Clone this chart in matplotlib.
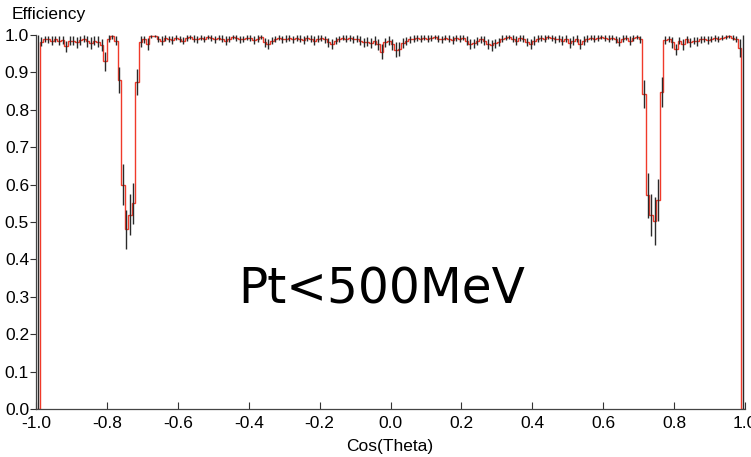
import numpy as np
import matplotlib
matplotlib.use("Agg")
import matplotlib.pyplot as plt

# 200 bins in cos(theta) from -1 to 1
bin_edges = np.linspace(-1.0, 1.0, 201)

efficiency = [
    0.000, 0.982, 0.990, 0.988, 0.985, 0.990, 0.984, 0.986, 0.970, 0.984,
    0.985, 0.980, 0.986, 0.990, 0.983, 0.978, 0.985, 0.982, 0.972, 0.930,
    0.990, 0.996, 0.985, 0.880, 0.600, 0.480, 0.520, 0.550, 0.875, 0.982,
    0.988, 0.975, 0.998, 0.998, 0.990, 0.985, 0.992, 0.990, 0.987, 0.993,
    0.990, 0.985, 0.992, 0.994, 0.990, 0.988, 0.993, 0.990, 0.995, 0.992,
    0.988, 0.993, 0.990, 0.985, 0.990, 0.994, 0.992, 0.988, 0.990, 0.993,
    0.992, 0.986, 0.990, 0.994, 0.980, 0.976, 0.985, 0.990, 0.993, 0.988,
    0.990, 0.992, 0.988, 0.991, 0.990, 0.987, 0.992, 0.990, 0.985, 0.990,
    0.992, 0.988, 0.980, 0.975, 0.985, 0.990, 0.993, 0.990, 0.992, 0.988,
    0.990, 0.985, 0.980, 0.982, 0.978, 0.985, 0.975, 0.955, 0.980, 0.985,
    0.975, 0.960, 0.962, 0.978, 0.983, 0.988, 0.990, 0.992, 0.990, 0.993,
    0.990, 0.992, 0.994, 0.990, 0.988, 0.993, 0.990, 0.986, 0.992, 0.990,
    0.993, 0.985, 0.975, 0.978, 0.983, 0.988, 0.985, 0.975, 0.972, 0.978,
    0.982, 0.990, 0.993, 0.995, 0.990, 0.985, 0.992, 0.990, 0.982, 0.975,
    0.985, 0.990, 0.992, 0.990, 0.994, 0.992, 0.988, 0.990, 0.985, 0.990,
    0.978, 0.985, 0.990, 0.976, 0.985, 0.990, 0.993, 0.990, 0.992, 0.994,
    0.992, 0.990, 0.993, 0.988, 0.982, 0.990, 0.993, 0.985, 0.992, 0.995,
    0.988, 0.842, 0.572, 0.519, 0.503, 0.559, 0.848, 0.987, 0.990, 0.980,
    0.962, 0.985, 0.975, 0.988, 0.980, 0.985, 0.983, 0.988, 0.990, 0.987,
    0.990, 0.992, 0.990, 0.993, 0.995, 0.997, 0.993, 0.990, 0.965, 0.000,
]

errors = [
    1.000, 0.012, 0.008, 0.010, 0.012, 0.008, 0.012, 0.010, 0.015, 0.012,
    0.012, 0.015, 0.012, 0.010, 0.014, 0.016, 0.012, 0.014, 0.016, 0.025,
    0.010, 0.006, 0.012, 0.035, 0.055, 0.052, 0.055, 0.055, 0.035, 0.014,
    0.010, 0.016, 0.006, 0.004, 0.008, 0.012, 0.008, 0.008, 0.010, 0.007,
    0.008, 0.010, 0.008, 0.006, 0.009, 0.010, 0.007, 0.008, 0.006, 0.008,
    0.010, 0.007, 0.009, 0.011, 0.008, 0.006, 0.008, 0.010, 0.008, 0.007,
    0.008, 0.011, 0.009, 0.006, 0.012, 0.013, 0.010, 0.008, 0.007, 0.010,
    0.009, 0.008, 0.010, 0.008, 0.009, 0.010, 0.008, 0.009, 0.011, 0.009,
    0.008, 0.010, 0.012, 0.013, 0.010, 0.008, 0.007, 0.009, 0.008, 0.010,
    0.009, 0.011, 0.012, 0.012, 0.013, 0.011, 0.014, 0.020, 0.012, 0.011,
    0.014, 0.020, 0.018, 0.013, 0.011, 0.010, 0.009, 0.008, 0.009, 0.007,
    0.009, 0.008, 0.006, 0.009, 0.010, 0.007, 0.009, 0.011, 0.008, 0.009,
    0.007, 0.011, 0.013, 0.012, 0.011, 0.010, 0.011, 0.013, 0.014, 0.012,
    0.011, 0.009, 0.007, 0.006, 0.009, 0.011, 0.008, 0.009, 0.011, 0.013,
    0.011, 0.009, 0.008, 0.009, 0.006, 0.008, 0.010, 0.009, 0.011, 0.009,
    0.013, 0.011, 0.009, 0.013, 0.011, 0.009, 0.007, 0.009, 0.008, 0.006,
    0.008, 0.009, 0.007, 0.010, 0.012, 0.009, 0.007, 0.011, 0.008, 0.005,
    0.010, 0.038, 0.060, 0.057, 0.065, 0.055, 0.040, 0.010, 0.008, 0.014,
    0.015, 0.010, 0.014, 0.010, 0.012, 0.010, 0.012, 0.010, 0.008, 0.010,
    0.008, 0.007, 0.008, 0.006, 0.005, 0.004, 0.006, 0.008, 0.025, 1.000,
]

x_ticks = [-1.0, -0.8, -0.6, -0.4, -0.2, 0.0, 0.2, 0.4, 0.6, 0.8, 1.0]
y_ticks = [0.0, 0.1, 0.2, 0.3, 0.4, 0.5, 0.6, 0.7, 0.8, 0.9, 1.0]

plt.rcParams['font.family'] = ['Liberation Sans', 'DejaVu Sans']

fig = plt.figure(figsize=(7.51, 4.57), dpi=100)
ax = fig.add_axes([36 / 751, 48 / 457, 709 / 751, 374 / 457])

eff = np.array(efficiency)
err = np.array(errors)
centers = 0.5 * (bin_edges[:-1] + bin_edges[1:])
err_lo = np.minimum(err, eff)
err_hi = np.minimum(err, 1.0 - eff)

ax.stairs(eff, bin_edges, color='#f03a2a', linewidth=1.0, zorder=2)
ax.errorbar(centers, eff, yerr=[err_lo, err_hi], fmt='none',
            ecolor='#2a2a2a', elinewidth=1.0, zorder=3)

ax.set_xlim(-1.0, 1.0)
ax.set_ylim(0.0, 1.0)
ax.set_xticks(x_ticks)
ax.set_yticks(y_ticks)
ax.set_xticklabels([f'{t:.1f}' for t in x_ticks])
ax.set_yticklabels([f'{t:.1f}' for t in y_ticks])
ax.tick_params(axis='x', direction='in', length=5, width=0.8, colors='#333333',
               labelcolor='black', labelsize=12.5, pad=5)
ax.tick_params(axis='y', direction='out', length=4, width=0.8, colors='#333333',
               labelcolor='black', labelsize=12.5, pad=1)

for side in ['top', 'right']:
    ax.spines[side].set_visible(False)
for side in ['left', 'bottom']:
    ax.spines[side].set_color('#444444')
    ax.spines[side].set_linewidth(0.9)

fig.text(12 / 751, 1 - 15 / 457, 'Efficiency', fontsize=12.5, ha='left', va='center')
fig.text(390 / 751, 1 - 447 / 457, 'Cos(Theta)', fontsize=12.5, ha='center', va='center')

ax.text(0.487, 0.32, 'Pt<500MeV', transform=ax.transAxes, fontsize=35,
        ha='center', va='center', family=['DejaVu Sans'])

fig.savefig('out.png', dpi=100)
